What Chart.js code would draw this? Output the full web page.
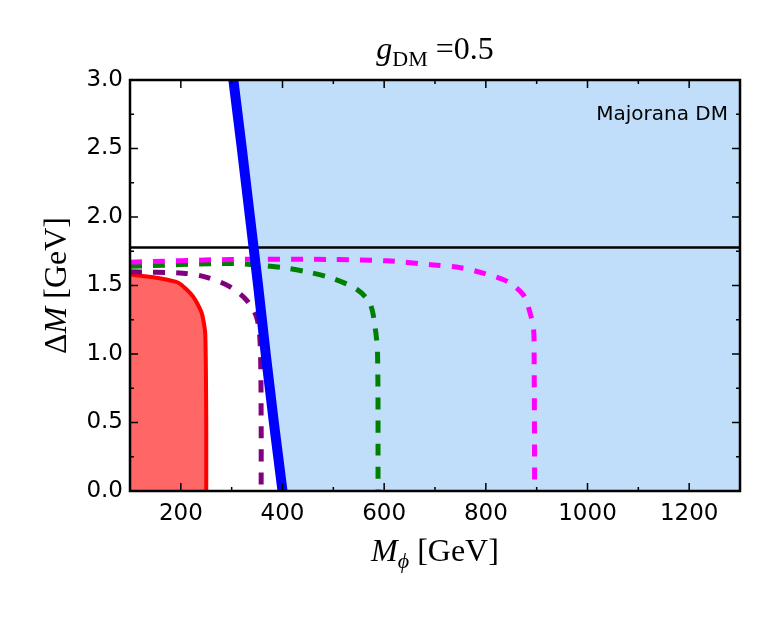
<!DOCTYPE html>
<html>
<head>
<meta charset="utf-8">
<script src="https://cdn.jsdelivr.net/npm/chart.js@4/dist/chart.umd.min.js"></script>
<style>
  html, body { margin: 0; padding: 0; background: #fff; }
  #wrap { width: 769px; height: 619px; }
</style>
</head>
<body>
<div id="wrap"><canvas id="chart" width="769" height="619"></canvas></div>
<script>
// axis ticks
const xTicks = [200, 400, 600, 800, 1000, 1200];
const xMinor = [300, 500, 700, 900, 1100];
const yTicks = [0, 0.5, 1.0, 1.5, 2.0, 2.5, 3.0];
const yMinor = [0.25, 0.75, 1.25, 1.75, 2.25, 2.75];

// blue bound (M_phi, Delta M)
const blueM  = [300, 320, 336, 352, 367, 383, 400];
const blueDM = [3.1, 2.5, 2.0, 1.5, 1.0, 0.5, 0.0];

// red excluded region
const redM  = [100, 146, 195, 224, 241, 248, 250, 250];
const redDM = [1.58, 1.56, 1.52, 1.42, 1.30, 1.15, 0.5, 0.0];

// dashed contours
const purpleM  = [100, 204, 251, 297, 330, 349, 356, 358, 358];
const purpleDM = [1.60, 1.59, 1.56, 1.49, 1.39, 1.27, 1.08, 0.5, 0.0];

const greenM  = [100, 303, 401, 448, 500, 547, 572, 582, 587, 588];
const greenDM = [1.64, 1.66, 1.63, 1.60, 1.55, 1.47, 1.37, 1.20, 1.0, 0.0];

const magentaM  = [100, 300, 494, 605, 697, 750, 795, 842, 874, 887, 894, 895, 896];
const magentaDM = [1.67, 1.69, 1.69, 1.68, 1.65, 1.63, 1.59, 1.53, 1.43, 1.30, 1.18, 1.0, 0.0];

// tau mass line
const tauDM = 1.777;

const xMin = 100, xMax = 1300, yMin = 0, yMax = 3;

function pts(xs, ys) {
  return xs.map((x, i) => ({ x: x, y: ys[i] }));
}

// draw a run of text pieces with different fonts / offsets
function drawRich(ctx, parts, x, y) {
  let total = 0;
  parts.forEach(p => { ctx.font = p.font; p.w = ctx.measureText(p.t).width; total += p.w; });
  let cx = x - total / 2;
  parts.forEach(p => {
    ctx.font = p.font;
    ctx.fillText(p.t, cx, y + (p.dy || 0));
    cx += p.w;
  });
}

const decorPlugin = {
  id: 'decor',
  afterDraw(chart) {
    const ctx = chart.ctx;
    const a = chart.chartArea;
    const xs = chart.scales.x, ys = chart.scales.y;
    ctx.save();
    ctx.strokeStyle = '#000';
    ctx.fillStyle = '#000';

    // ticks pointing inward on all four sides
    ctx.lineWidth = 1.5;
    ctx.beginPath();
    const xt = (v, len) => {
      const px = xs.getPixelForValue(v);
      ctx.moveTo(px, a.bottom); ctx.lineTo(px, a.bottom - len);
      ctx.moveTo(px, a.top); ctx.lineTo(px, a.top + len);
    };
    const yt = (v, len) => {
      const py = ys.getPixelForValue(v);
      ctx.moveTo(a.left, py); ctx.lineTo(a.left + len, py);
      ctx.moveTo(a.right, py); ctx.lineTo(a.right - len, py);
    };
    xTicks.forEach(v => xt(v, 8));
    xMinor.forEach(v => xt(v, 4));
    yTicks.forEach(v => yt(v, 8));
    yMinor.forEach(v => yt(v, 4));
    ctx.stroke();

    // frame
    ctx.lineWidth = 2.5;
    ctx.strokeRect(a.left, a.top, a.right - a.left, a.bottom - a.top);

    // label inside plot
    ctx.font = '20px "DejaVu Sans"';
    ctx.textAlign = 'right';
    ctx.textBaseline = 'alphabetic';
    ctx.fillText('Majorana DM', a.right - 12, a.top + 40);

    // title and axis titles
    ctx.textAlign = 'left';
    const serif = '"Liberation Serif", "DejaVu Serif", serif';
    const cx = (a.left + a.right) / 2;
    drawRich(ctx, [
      { t: 'g', font: 'italic 32px ' + serif },
      { t: 'DM', font: '22px ' + serif, dy: 7 },
      { t: ' =0.5', font: '32px ' + serif }
    ], cx, 59);

    drawRich(ctx, [
      { t: 'M', font: 'italic 32px ' + serif },
      { t: '\u03D5', font: 'italic 22px ' + serif, dy: 7 },
      { t: ' [GeV]', font: '32px ' + serif }
    ], cx, 561);

    ctx.translate(66, (a.top + a.bottom) / 2);
    ctx.rotate(-Math.PI / 2);
    drawRich(ctx, [
      { t: '\u0394', font: '32px ' + serif },
      { t: 'M', font: 'italic 32px ' + serif },
      { t: ' [GeV]', font: '32px ' + serif }
    ], 0, 0);
    ctx.restore();
  }
};

const dash = [12, 11];

new Chart(document.getElementById('chart').getContext('2d'), {
  type: 'line',
  data: {
    datasets: [
      { // blue bound line (on top)
        data: pts(blueM, blueDM),
        borderColor: '#0000ff', borderWidth: 10, pointRadius: 0, fill: false, tension: 0
      },
      {
        data: pts(magentaM, magentaDM),
        borderColor: '#ff00ff', borderWidth: 5, borderDash: dash, pointRadius: 0, fill: false, tension: 0.3
      },
      {
        data: pts(greenM, greenDM),
        borderColor: '#008000', borderWidth: 5, borderDash: dash, pointRadius: 0, fill: false, tension: 0.3
      },
      {
        data: pts(purpleM, purpleDM),
        borderColor: '#800080', borderWidth: 5, borderDash: dash, pointRadius: 0, fill: false, tension: 0.3
      },
      { // tau threshold
        data: pts([xMin, xMax], [tauDM, tauDM]),
        borderColor: '#000', borderWidth: 2.5, pointRadius: 0, fill: false
      },
      { // red region
        data: pts(redM, redDM),
        borderColor: '#ff0000', borderWidth: 4, pointRadius: 0,
        backgroundColor: '#ff6666', fill: 'origin', tension: 0.2
      },
      { // blue allowed region, filled to the right of the bound
        data: pts(blueM.concat([xMax]), blueDM.concat([0])),
        borderWidth: 0, borderColor: 'rgba(0,0,0,0)', pointRadius: 0,
        backgroundColor: '#c0defa', fill: 'end', tension: 0
      }
    ]
  },
  options: {
    responsive: false,
    animation: false,
    events: [],
    layout: { padding: { top: 80, right: 29, left: 0, bottom: 0 } },
    plugins: { legend: { display: false }, tooltip: { enabled: false }, title: { display: false } },
    scales: {
      x: {
        type: 'linear', min: xMin, max: xMax,
        grid: { display: false, drawTicks: false },
        border: { display: false },
        afterFit: s => { s.height = 128; },
        afterBuildTicks: s => { s.ticks = xTicks.map(v => ({ value: v })); },
        ticks: { color: '#000', padding: 9, maxRotation: 0, callback: v => String(v), font: { family: 'DejaVu Sans', size: 23 } }
      },
      y: {
        type: 'linear', min: yMin, max: yMax,
        grid: { display: false, drawTicks: false },
        border: { display: false },
        afterFit: s => { s.width = 130; },
        afterBuildTicks: s => { s.ticks = yTicks.map(v => ({ value: v })); },
        ticks: { color: '#000', padding: 7, callback: v => v.toFixed(1), font: { family: 'DejaVu Sans', size: 23 } }
      }
    }
  },
  plugins: [decorPlugin]
});
</script>
</body>
</html>
